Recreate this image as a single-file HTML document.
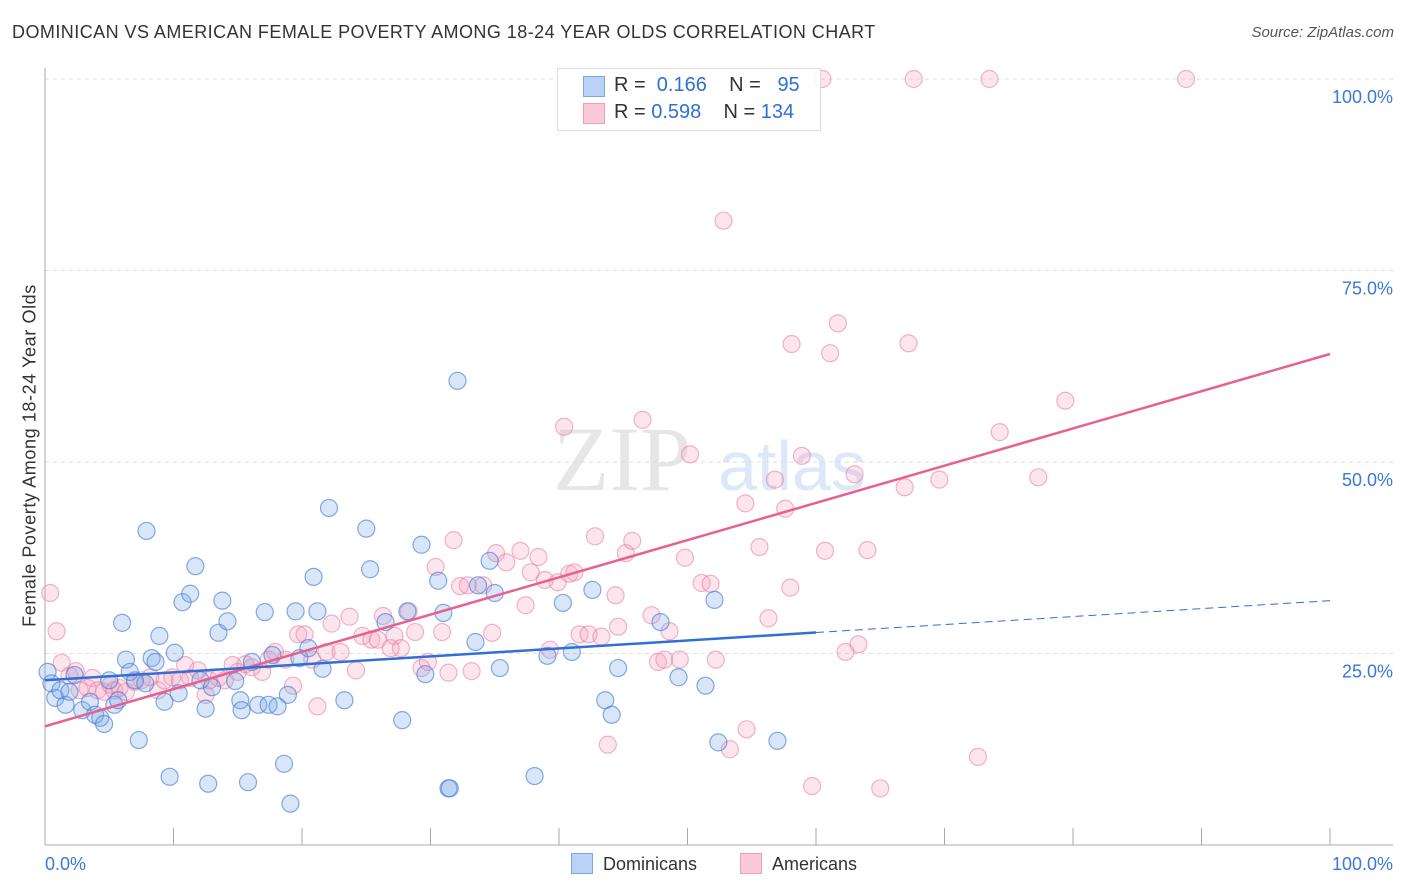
<!DOCTYPE html>
<html><head><meta charset="utf-8">
<style>
body{margin:0;background:#fff;font-family:"Liberation Sans",sans-serif;}
#wrap{position:relative;width:1406px;height:892px;overflow:hidden;}
.t{position:absolute;white-space:nowrap;}
</style></head>
<body>
<div id="wrap">
<div class="t" style="left:12px;top:22px;font-size:18px;color:#333;letter-spacing:0.45px;">DOMINICAN VS AMERICAN FEMALE POVERTY AMONG 18-24 YEAR OLDS CORRELATION CHART</div>
<div class="t" style="right:12px;top:24px;font-size:15px;color:#555;font-style:italic;">Source: ZipAtlas.com</div>
<div class="t" style="left:-150px;top:445px;width:360px;text-align:center;font-size:18px;letter-spacing:0.6px;color:#333;transform:rotate(-90deg);">Female Poverty Among 18-24 Year Olds</div>
<svg id="svg" width="1406" height="892" style="position:absolute;left:0;top:0"></svg>
<div class="t" style="left:557px;top:68px;width:262px;height:61px;border:1px solid #ddd;background:rgba(255,255,255,0.9);"></div>
<div class="t" style="left:583px;top:76px;width:20px;height:19px;background:#b9d2f5;border:1px solid #7aa6e8;"></div>
<div class="t" style="left:583px;top:103px;width:20px;height:19px;background:#fbc9d8;border:1px solid #ef9fb8;"></div>
<div class="t" style="left:614px;top:74px;font-size:20px;color:#333;">R = &nbsp;<span style="color:#2f6fd6">0.166</span>&nbsp;&nbsp;&nbsp; N = &nbsp;&nbsp;<span style="color:#2f6fd6">95</span></div>
<div class="t" style="left:614px;top:101px;font-size:20px;color:#333;">R = <span style="color:#2f6fd6">0.598</span>&nbsp;&nbsp;&nbsp; N = <span style="color:#2f6fd6">134</span></div>
<div class="t" style="left:571px;top:853px;font-size:18px;color:#333;"><span style="display:inline-block;width:20px;height:19px;background:#b9d2f5;border:1px solid #7aa6e8;vertical-align:-4px;margin-right:10px;"></span>Dominicans</div>
<div class="t" style="left:740px;top:853px;font-size:18px;color:#333;"><span style="display:inline-block;width:20px;height:19px;background:#fbc9d8;border:1px solid #ef9fb8;vertical-align:-4px;margin-right:10px;"></span>Americans</div>
</div>
<script>
const yTicks=[25,50,75,100];
const yTickLabels=["25.0%","50.0%","75.0%","100.0%"];
const xTicks=[0,10,20,30,40,50,60,70,80,90,100];
const blueX=[0.2,0.5,0.8,1.2,1.6,1.9,2.3,2.9,3.5,3.9,4.3,4.6,5.0,5.4,5.7,6.0,6.3,6.6,7.0,7.3,7.8,7.9,8.3,8.6,8.9,9.3,9.7,10.1,10.4,10.7,11.3,11.7,12.1,12.5,12.7,13.0,13.5,13.8,14.2,14.8,15.2,15.3,15.8,16.1,16.6,17.1,17.4,17.7,18.1,18.6,19.1,18.9,19.5,19.8,20.5,20.9,21.2,21.6,22.1,23.3,25.0,25.3,26.5,27.8,28.2,29.3,29.6,30.6,31.0,31.4,31.5,32.1,33.5,33.7,34.6,35.0,35.4,38.1,39.1,40.3,41.0,42.6,43.6,44.1,44.6,47.9,49.3,51.4,52.1,52.4,57.0];
const blueY=[22.6,21.1,19.2,20.2,18.3,20.0,22.2,17.6,18.7,17.0,16.6,15.8,21.5,18.3,18.9,29.0,24.2,22.6,21.5,13.7,21.1,41.0,24.4,23.9,27.3,18.7,8.9,25.1,19.8,31.7,32.8,36.4,21.5,17.8,8.0,20.6,27.7,31.9,29.2,21.4,18.9,17.6,8.2,23.9,18.3,30.4,18.3,24.8,18.1,10.6,5.4,19.6,30.5,24.4,25.7,35.0,30.5,23.0,44.0,18.9,41.3,36.0,29.1,16.3,30.5,39.2,22.3,34.5,30.3,7.4,7.4,60.6,26.5,33.9,37.1,32.9,23.1,9.0,24.7,31.6,25.2,33.3,18.9,17.0,23.1,29.1,21.9,20.8,32.0,13.4,13.6];
const pinkX=[0.4,0.9,1.3,1.9,2.4,2.7,3.3,3.7,4.1,4.6,5.1,5.4,5.8,6.3,7.0,7.5,8.2,8.8,9.3,9.9,10.5,10.9,11.3,11.9,12.5,12.8,13.5,14.0,14.6,15.0,15.6,16.1,16.9,17.4,17.9,18.7,19.3,19.7,20.2,20.8,21.2,21.9,22.3,23.0,23.7,24.2,24.7,25.4,25.9,26.3,26.9,27.2,27.7,28.3,28.8,29.3,29.8,30.4,30.9,31.4,31.8,32.3,32.9,33.2,34.1,34.8,35.1,35.9,37.0,37.4,37.8,38.4,38.9,39.3,39.9,40.4,40.8,41.2,41.6,42.3,42.8,43.3,43.8,44.4,44.6,45.2,45.7,46.5,47.2,47.7,48.2,48.6,49.4,49.8,50.2,51.1,51.8,52.2,52.8,53.3,54.5,54.6,55.6,56.3,56.8,57.6,58.0,58.1,58.9,59.7,60.5,60.7,61.1,61.7,62.3,63.0,63.3,64.0,65.0,66.9,67.2,67.6,69.6,72.6,73.5,74.3,77.3,79.4,88.8];
const pinkY=[32.9,27.9,23.8,22.1,22.7,20.2,20.5,21.8,20.2,20.0,20.9,20.2,20.5,20.0,21.3,21.5,21.9,20.2,21.5,21.9,21.5,23.5,21.8,22.8,19.6,21.5,21.8,21.5,23.5,22.6,23.6,23.2,22.6,24.2,25.2,24.2,20.8,27.5,27.5,24.2,18.1,25.2,28.9,25.2,29.8,22.8,27.3,26.8,26.8,29.9,25.7,27.3,25.7,30.5,27.8,23.1,23.9,36.3,27.8,22.5,39.8,33.8,33.9,22.7,33.9,27.7,38.1,36.9,38.4,31.3,35.6,37.6,34.6,25.5,34.3,54.6,35.4,35.6,27.5,27.5,40.3,27.2,13.1,32.6,28.5,38.1,39.7,55.5,30.0,23.9,24.2,27.9,24.2,37.5,51.0,34.2,34.1,24.2,81.5,12.5,44.6,15.1,38.9,29.6,47.7,43.9,33.6,65.4,50.8,7.7,100,38.4,64.2,68.1,25.2,48.4,26.2,38.5,7.4,46.7,65.5,100,47.7,11.5,100,53.9,48.0,58.0,100];
const blueTrend=[21.5,0.104]; // intercept, slope
const pinkTrend=[15.5,0.486];
const blueSolidEnd=60;

const X0=45,X1=1330,Y0=845,Y1=79;
const sx=v=>X0+(X1-X0)*v/100, sy=v=>Y0-(Y0-Y1)*v/100;
const svg=document.getElementById('svg');const NS='http://www.w3.org/2000/svg';
function mk(tag,attrs,parent){const e=document.createElementNS(NS,tag);for(const k in attrs)e.setAttribute(k,attrs[k]);(parent||svg).appendChild(e);return e;}
const wm=mk('text',{x:553,y:490,'font-family':'Liberation Serif,serif','font-size':92,fill:'#e6e6e6'});wm.textContent='ZIP';


const wm2=mk('text',{x:718,y:490,'font-family':'Liberation Sans,sans-serif','font-size':70,fill:'#dce8f8'});wm2.textContent='atlas';


yTicks.forEach((v,i)=>{
 const g=mk('line',{x1:X0,x2:1393,y1:sy(v),y2:sy(v),stroke:'#ddd','stroke-dasharray':'4,4'});
 
 
 const t=mk('text',{x:1393,y:sy(v)+24,'text-anchor':'end','font-size':18,fill:'#3b78d8','font-family':'Liberation Sans,sans-serif'});
 t.textContent=yTickLabels[i];
 
 
});
const ax=mk('line',{x1:X0,x2:X0,y1:68,y2:Y0,stroke:'#aaa'});


const bx=mk('line',{x1:X0,x2:1393,y1:Y0,y2:Y0,stroke:'#aaa'});


xTicks.forEach(v=>{const l=mk('line',{x1:sx(v),x2:sx(v),y1:828,y2:Y0,stroke:'#aaa'});
 
 });
const xl0=mk('text',{x:45,y:870,'font-size':18,fill:'#3b78d8','font-family':'Liberation Sans,sans-serif'});xl0.textContent='0.0%';


const xl1=mk('text',{x:1393,y:870,'text-anchor':'end','font-size':18,fill:'#3b78d8','font-family':'Liberation Sans,sans-serif'});xl1.textContent='100.0%';


pinkX.forEach((x,i)=>{const c=mk('circle',{cx:sx(x),cy:sy(pinkY[i]),r:8.5,fill:'rgba(245,160,190,0.28)',stroke:'rgba(232,120,160,0.55)','stroke-width':1.2});
 
 });
blueX.forEach((x,i)=>{const c=mk('circle',{cx:sx(x),cy:sy(blueY[i]),r:8.5,fill:'rgba(120,165,230,0.28)',stroke:'rgba(70,125,215,0.65)','stroke-width':1.2});
 
 });
const f=(t,x)=>t[0]+t[1]*x;
const pl=mk('line',{x1:sx(0),y1:sy(f(pinkTrend,0)),x2:sx(100),y2:sy(f(pinkTrend,100)),stroke:'#e8608e','stroke-width':2.5});


const bl=mk('line',{x1:sx(0),y1:sy(f(blueTrend,0)),x2:sx(blueSolidEnd),y2:sy(f(blueTrend,blueSolidEnd)),stroke:'#2f6fd6','stroke-width':2.5});


const bd=mk('line',{x1:sx(blueSolidEnd),y1:sy(f(blueTrend,blueSolidEnd)),x2:sx(100),y2:sy(f(blueTrend,100)),stroke:'#2f6fd6','stroke-width':1,'stroke-dasharray':'8,5'});


</script>
</body></html>
